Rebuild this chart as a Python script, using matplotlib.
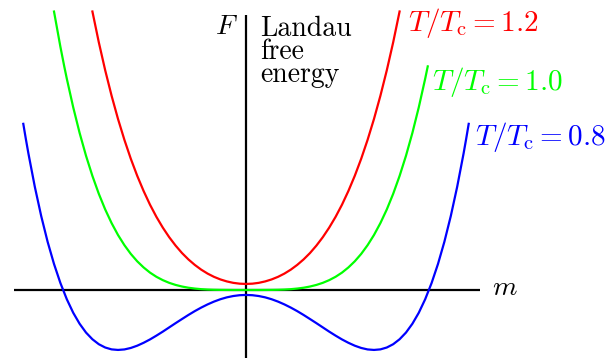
import numpy as np
import matplotlib.pyplot as plt

plt.rcParams['mathtext.fontset'] = 'cm'

# Free energy F(m) read along m >= 0; the curves are even in m,
# so the m < 0 half is obtained by mirroring.
m_hot = [0.0, 0.05, 0.1, 0.15, 0.2, 0.25, 0.3, 0.35, 0.4, 0.45, 0.5, 0.55, 0.6, 0.65,
         0.7, 0.75, 0.8, 0.85, 0.9, 0.95, 1.0, 1.05, 1.1, 1.15, 1.2]
F_hot = [0.110, 0.115, 0.130, 0.156, 0.192, 0.239, 0.298, 0.370, 0.456, 0.556, 0.672, 0.807, 0.960, 1.134,
         1.330, 1.551, 1.800, 2.077, 2.386, 2.730, 3.110, 3.531, 3.994, 4.504, 5.064]

m_crit = [0.0, 0.05, 0.1, 0.15, 0.2, 0.25, 0.3, 0.35, 0.4, 0.45, 0.5, 0.55, 0.6, 0.65, 0.7, 0.75,
          0.8, 0.85, 0.9, 0.95, 1.0, 1.05, 1.1, 1.15, 1.2, 1.25, 1.3, 1.35, 1.4, 1.42, 1.45, 1.5]
F_crit = [0.000, 0.000, 0.000, 0.001, 0.002, 0.004, 0.008, 0.015, 0.026, 0.041, 0.063, 0.092, 0.130, 0.179, 0.240, 0.316,
          0.410, 0.522, 0.656, 0.815, 1.000, 1.216, 1.464, 1.749, 2.074, 2.441, 2.856, 3.322, 3.842, 4.066, 4.421, 5.063]
m_crit_right = 1.42  # the right branch stops a little lower than the left one

m_cold = [0.0, 0.05, 0.1, 0.15, 0.2, 0.25, 0.3, 0.35, 0.4, 0.45, 0.5, 0.55, 0.6, 0.65, 0.7, 0.75,
          0.8, 0.85, 0.9, 0.95, 1.0, 1.05, 1.1, 1.15, 1.2, 1.25, 1.3, 1.35, 1.4, 1.45, 1.5, 1.55,
          1.6, 1.65, 1.7, 1.72, 1.74]
F_cold = [-0.090, -0.095, -0.110, -0.134, -0.168, -0.211, -0.262, -0.320, -0.384, -0.454, -0.528, -0.603, -0.680, -0.757, -0.830, -0.899,
          -0.960, -1.013, -1.054, -1.081, -1.090, -1.080, -1.046, -0.986, -0.896, -0.774, -0.614, -0.414, -0.168, 0.126, 0.473, 0.877,
          1.344, 1.877, 2.482, 2.745, 3.021]

labels = [r'$T/T_{\rm c} = 1.2$', r'$T/T_{\rm c} = 1.0$', r'$T/T_{\rm c} = 0.8$']
colors = ['#ff0000', '#00ff00', '#0000ff']


def mirror(m, F, m_max=None):
    m = np.asarray(m)
    F = np.asarray(F)
    right = m <= (m_max if m_max is not None else m.max())
    return (np.concatenate([-m[:0:-1], m[right]]),
            np.concatenate([F[:0:-1], F[right]]))


fig = plt.figure(figsize=(6.1, 3.6), dpi=100)
ax = fig.add_axes([0, 0, 1, 1])
ax.set_axis_off()
ax.set_xlim(-1.922, 2.844)
ax.set_ylim(-1.273, 5.273)

# Axes drawn as plain lines through the origin
ax.plot([-1.81, 1.83], [0, 0], color='black', linewidth=1.6, solid_capstyle='butt')
ax.plot([0, 0], [-1.24, 5.0], color='black', linewidth=1.6, solid_capstyle='butt')

for (m, F, mmax), c in zip([(m_hot, F_hot, None), (m_crit, F_crit, m_crit_right),
                            (m_cold, F_cold, None)], colors):
    mm, FF = mirror(m, F, mmax)
    ax.plot(mm, FF, color=c, linewidth=1.6)

# Curve labels
label_pos = [(1.266, 4.709), (1.453, 3.636), (1.789, 2.636)]
for (x, y), txt, c in zip(label_pos, labels, colors):
    ax.text(x, y, txt, color=c, fontsize=21, ha='left', va='baseline')

ax.text(-0.242, 4.66, r'$F$', fontsize=20, ha='left', va='baseline')
ax.text(1.922, -0.091, r'$m$', fontsize=20, ha='left', va='baseline')
# baseline here is that of the last line, "energy"
ax.text(0.109, 3.78, 'Landau\nfree\nenergy', fontsize=20, family='cmr10',
        ha='left', va='baseline', linespacing=0.85)

fig.savefig('out.png', dpi=100)
